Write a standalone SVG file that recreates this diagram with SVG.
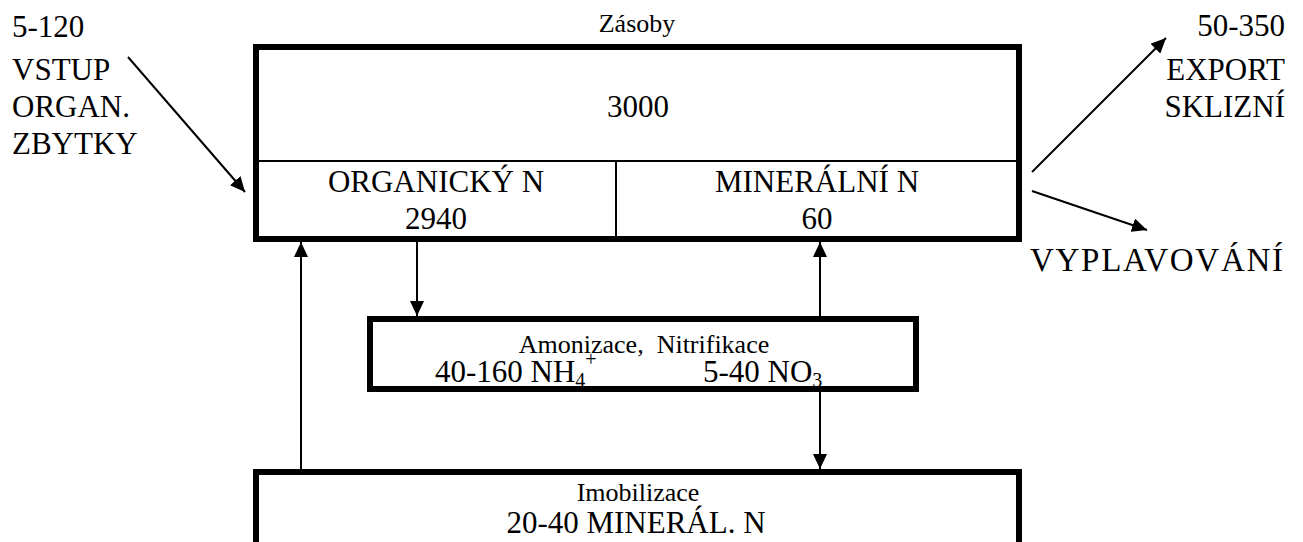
<svg xmlns="http://www.w3.org/2000/svg" width="1303" height="542" viewBox="0 0 1303 542">
<style>
text{font-family:"Liberation Serif","Times New Roman",serif;fill:#000}
.big{font-size:31px}
.small{font-size:26px}
.mid{text-anchor:middle}
.end{text-anchor:end}
.box{fill:none;stroke:#000;stroke-width:6}
.thin{fill:none;stroke:#000;stroke-width:2}
.conn{fill:none;stroke:#000;stroke-width:2;marker-end:url(#ah)}
</style>
<defs>
<marker id="ah" viewBox="0 0 15 14" markerWidth="15" markerHeight="14" refX="15" refY="7" orient="auto" markerUnits="userSpaceOnUse">
<path d="M0,0 L15,7 L0,14 Z" fill="#000"/>
</marker>
</defs>
<rect width="1303" height="542" fill="#fff"/>
<g id="zasoby">
<rect class="box" x="256" y="47" width="763" height="192"/>
<line class="thin" x1="256" y1="161" x2="1022" y2="161"/>
<line class="thin" x1="616" y1="161" x2="616" y2="239"/>
<text class="small mid" x="637" y="32">Zásoby</text>
<text class="big mid" x="638" y="117">3000</text>
</g>
<g id="organicky">
<text class="big mid" x="436" y="192">ORGANICKÝ N</text>
<text class="big mid" x="436" y="229">2940</text>
</g>
<g id="mineralni">
<text class="big mid" x="817" y="192">MINERÁLNÍ N</text>
<text class="big mid" x="817" y="229">60</text>
</g>
<g id="amonizace">
<rect class="box" x="370" y="319" width="546" height="70"/>
<text class="small mid" x="644" y="353" xml:space="preserve">Amonizace,  Nitrifikace</text>
<text class="big" x="435" y="382">40-160 NH<tspan font-size="20" dy="5">4</tspan><tspan font-size="20" dy="-21">+</tspan></text>
<text class="big" x="703" y="382">5-40 NO<tspan font-size="20" dy="5">3</tspan></text>
</g>
<g id="imobilizace">
<path class="box" d="M256,550 V472 H1019 V550"/>
<text class="small mid" x="638" y="501">Imobilizace</text>
<text class="big mid" x="636" y="533">20-40 MINERÁL. N</text>
</g>
<g id="vstup">
<text class="big" x="12" y="37">5-120</text>
<text class="big" x="12" y="80">VSTUP</text>
<text class="big" x="12" y="117">ORGAN.</text>
<text class="big" x="12" y="154">ZBYTKY</text>
</g>
<g id="export">
<text class="big end" x="1285" y="36">50-350</text>
<text class="big end" x="1285" y="80">EXPORT</text>
<text class="big end" x="1285" y="117">SKLIZNÍ</text>
</g>
<g id="vyplavovani">
<text x="1030" y="271" font-size="33" textLength="253" lengthAdjust="spacing">VYPLAVOVÁNÍ</text>
</g>
<g id="connectors">
<line class="conn" x1="128" y1="57" x2="245" y2="192"/>
<line class="conn" x1="1032" y1="172" x2="1166" y2="38"/>
<line class="conn" x1="1032" y1="191" x2="1147" y2="230"/>
<line class="conn" x1="301" y1="472" x2="301" y2="242"/>
<line class="conn" x1="417" y1="239" x2="417" y2="316"/>
<line class="conn" x1="820" y1="319" x2="820" y2="242"/>
<line class="conn" x1="820" y1="389" x2="820" y2="469"/>
</g>
</svg>
